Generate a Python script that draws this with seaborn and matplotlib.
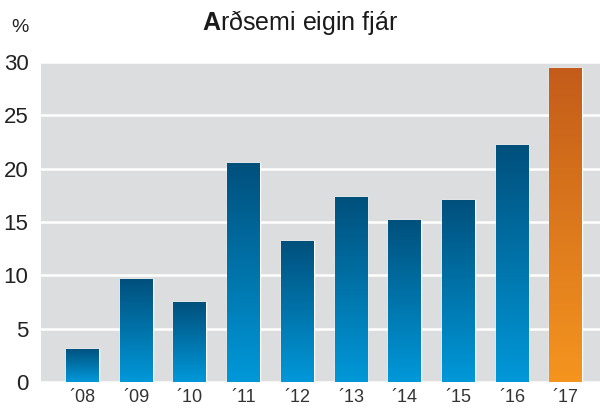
import numpy as np
import matplotlib
matplotlib.use("Agg")
import matplotlib.pyplot as plt
import seaborn as sns
from matplotlib.colors import LinearSegmentedColormap

years = ['´08', '´09', '´10', '´11', '´12', '´13', '´14', '´15', '´16', '´17']
roe = [3.1, 9.65, 7.5, 20.5, 13.2, 17.3, 15.2, 17.05, 22.2, 29.45]

sns.set_style("white")
plt.rcParams['font.family'] = ['Liberation Sans', 'DejaVu Sans']
plt.rcParams['mathtext.fontset'] = 'custom'
plt.rcParams['mathtext.rm'] = 'Liberation Sans'
plt.rcParams['mathtext.bf'] = 'Liberation Sans:bold'

fig = plt.figure(figsize=(6, 4.08), dpi=100)
ax = fig.add_axes([0.0683, 0.0637, 0.9317, 0.7843])

sns.barplot(x=years, y=roe, ax=ax, color='#0077b0', width=0.61, saturation=1, zorder=3)

# vertical gradient inside every bar
blue = LinearSegmentedColormap.from_list('b', ['#0098d9', '#00507c'])
orange = LinearSegmentedColormap.from_list('o', ['#f5951f', '#c35c1a'])
grad = np.linspace(0, 1, 256).reshape(-1, 1)
for i, p in enumerate(ax.patches):
    x0, y0 = p.get_x(), p.get_y()
    w, h = p.get_width(), p.get_height()
    cmap = orange if i == len(years) - 1 else blue
    im = ax.imshow(grad, cmap=cmap, origin='lower', aspect='auto',
                   extent=[x0, x0 + w, y0, y0 + h], zorder=4)
    im.set_clip_path(p)

ax.set_facecolor('#dcdddf')
ax.set_xlim(-0.773, 9.64)
ax.set_ylim(0, 30)
ax.set_yticks(range(0, 31, 5))
ax.yaxis.grid(True, color='white', linewidth=1.8, zorder=1)
ax.set_axisbelow(True)
for s in ax.spines.values():
    s.set_visible(False)
ax.tick_params(axis='y', labelsize=16, colors='#222222', length=0, pad=9)
ax.tick_params(axis='x', labelsize=13, colors='#333333', length=0, pad=5)
ax.set_xticks(range(len(years)))
ax.set_xticklabels(years)

fig.text(0.033, 0.932, '%', fontsize=14, color='#222222', ha='center', va='center')
fig.text(0.5, 0.945, r'$\mathbf{A}$rðsemi eigin fjár', fontsize=18, color='#1a1a1a',
         ha='center', va='center')

fig.savefig('out.png', dpi=100)
